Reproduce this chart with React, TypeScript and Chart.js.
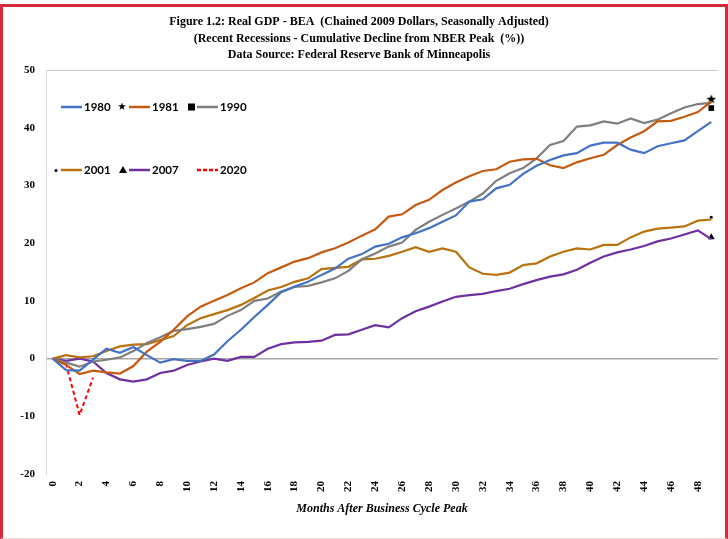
import React, { useEffect, useRef } from 'react';
import { Chart, registerables } from 'chart.js';

Chart.register(...registerables);

// ---- Data ----
const months: string[] = [
  '0', '1', '2', '3', '4', '5', '6', '7', '8', '9',
  '10', '11', '12', '13', '14', '15', '16', '17', '18', '19',
  '20', '21', '22', '23', '24', '25', '26', '27', '28', '29',
  '30', '31', '32', '33', '34', '35', '36', '37', '38', '39',
  '40', '41', '42', '43', '44', '45', '46', '47', '48', '49',
];

const titleLines: string[] = [
  'Figure 1.2: Real GDP - BEA  (Chained 2009 Dollars, Seasonally Adjusted)',
  '(Recent Recessions - Cumulative Decline from NBER Peak  (%))',
  'Data Source: Federal Reserve Bank of Minneapolis',
];
const xAxisTitle = 'Months After Business Cycle Peak';

const r1980: number[] = [
  0, -2.0, -2.1, -0.2, 1.7, 1.0, 2.0, 0.6, -0.7, -0.1,
  -0.4, -0.4, 0.7, 3.0, 5.0, 7.2, 9.3, 11.5, 12.5, 13.3,
  14.5, 15.6, 17.3, 18.1, 19.4, 19.9, 21.0, 21.7, 22.6, 23.7,
  24.8, 27.2, 27.6, 29.5, 30.1, 32.0, 33.4, 34.4, 35.2, 35.6,
  36.9, 37.4, 37.4, 36.2, 35.6, 36.8, 37.3, 37.8, 39.4, 41.0,
];
const r1981: number[] = [
  0, -1.1, -2.7, -2.1, -2.4, -2.6, -1.3, 1.2, 2.9, 5.0,
  7.3, 9.0, 10.0, 11.0, 12.2, 13.2, 14.8, 15.8, 16.8, 17.4,
  18.4, 19.1, 20.1, 21.3, 22.4, 24.6, 25.0, 26.6, 27.5, 29.2,
  30.5, 31.6, 32.5, 32.8, 34.1, 34.5, 34.6, 33.5, 33.0, 34.0,
  34.7, 35.3, 37.0, 38.3, 39.4, 41.1, 41.2, 41.9, 42.7, 44.5,
];
const r1990: number[] = [
  0, -0.7, -1.4, -0.5, -0.2, 0.2, 1.3, 2.7, 3.7, 4.8,
  5.1, 5.5, 6.0, 7.4, 8.4, 10.0, 10.4, 11.6, 12.4, 12.6,
  13.2, 13.9, 15.2, 17.2, 18.2, 19.4, 20.1, 22.3, 23.7, 24.9,
  26.0, 27.2, 28.6, 30.8, 32.1, 33.0, 34.7, 37.0, 37.7, 40.2,
  40.4, 41.1, 40.7, 41.6, 40.8, 41.4, 42.5, 43.5, 44.1, 44.3,
];
const r2001: number[] = [
  0, 0.6, 0.2, 0.4, 1.3, 2.1, 2.4, 2.5, 3.2, 3.9,
  5.8, 7.0, 7.7, 8.4, 9.3, 10.5, 11.8, 12.4, 13.3, 13.9,
  15.5, 15.7, 15.9, 17.2, 17.3, 17.8, 18.5, 19.3, 18.5, 19.1,
  18.5, 15.8, 14.7, 14.5, 14.9, 16.2, 16.5, 17.7, 18.5, 19.1,
  18.9, 19.7, 19.7, 21.0, 22.0, 22.5, 22.7, 22.9, 23.9, 24.1,
];
const r2007: number[] = [
  0, -0.4, 0.0, -0.5, -2.5, -3.6, -4.0, -3.6, -2.5, -2.1,
  -1.1, -0.5, 0.0, -0.4, 0.3, 0.3, 1.7, 2.5, 2.8, 2.9,
  3.1, 4.1, 4.2, 5.0, 5.8, 5.4, 7.0, 8.2, 9.0, 9.9,
  10.7, 11.0, 11.2, 11.7, 12.1, 12.9, 13.6, 14.2, 14.6, 15.4,
  16.6, 17.7, 18.4, 18.9, 19.5, 20.3, 20.8, 21.5, 22.2, 20.7,
];
const r2020: (number | null)[] = [0, -1.0, -9.8, -3.3];

// end-of-line marker series (value at the last month)
const markerStarValue = 45.0;
const markerSquareValue = 43.4;
const markerDotValue = 24.5;
const markerTriangleValue = 21.0;

const yMin = -20;
const yMax = 50;
const yStep = 10;

// ---- Styles ----
const C1980 = '#4472C4';
const C1981 = '#C55A11';
const C1990 = '#7F7F7F';
const C2001 = '#B8720E';
const C2007 = '#7030A0';
const C2020 = '#FF0000';

function makeStar(size: number): HTMLCanvasElement {
  const c = document.createElement('canvas');
  c.width = size;
  c.height = size;
  const g = c.getContext('2d')!;
  const cx = size / 2, cy = size / 2 + 0.5;
  const R = size / 2, r = R * 0.42;
  g.beginPath();
  for (let i = 0; i < 10; i++) {
    const ang = -Math.PI / 2 + (i * Math.PI) / 5;
    const rad = i % 2 === 0 ? R : r;
    const x = cx + rad * Math.cos(ang);
    const y = cy + rad * Math.sin(ang);
    if (i === 0) g.moveTo(x, y); else g.lineTo(x, y);
  }
  g.closePath();
  g.fillStyle = '#000';
  g.fill();
  return c;
}

const lastOnly = (v: number) => months.map((_, i) => (i === months.length - 1 ? v : null));

type LegendItem = { label: string; color: string; marker?: string; dash?: boolean };
const legendRow1: LegendItem[] = [
  { label: '1980', color: C1980 },
  { label: '1981', color: C1981, marker: 'star' },
  { label: '1990', color: C1990, marker: 'rect' },
];
const legendRow2: LegendItem[] = [
  { label: '2001', color: C2001, marker: 'dot' },
  { label: '2007', color: C2007, marker: 'triangle' },
  { label: '2020', color: C2020, dash: true },
];

export default function App() {
  const canvasRef = useRef<HTMLCanvasElement | null>(null);

  useEffect(() => {
    const canvas = canvasRef.current;
    if (!canvas) return;
    const star = makeStar(10);
    const legendStar = makeStar(8);

    const legendPlugin = {
      id: 'customLegend',
      afterDraw(chart: any) {
        const { ctx, chartArea } = chart;
        const rows = [legendRow1, legendRow2];
        const rowY = [chartArea.top + 37, chartArea.top + 100];
        const colX = [chartArea.left + 15, chartArea.left + 83, chartArea.left + 151];
        ctx.save();
        rows.forEach((row, ri) => {
          row.forEach((it, ci) => {
            const x0 = colX[ci];
            const y = rowY[ri];
            ctx.fillStyle = '#000';
            if (it.marker === 'star') {
              ctx.drawImage(legendStar, x0 - 11, y - 5);
            } else if (it.marker === 'rect') {
              ctx.fillRect(x0 - 9, y - 3.5, 7, 7);
            } else if (it.marker === 'dot') {
              ctx.beginPath();
              ctx.arc(x0 - 5, y + 0.5, 1.5, 0, Math.PI * 2);
              ctx.fill();
            } else if (it.marker === 'triangle') {
              ctx.beginPath();
              ctx.moveTo(x0 - 6, y - 4);
              ctx.lineTo(x0 - 2, y + 3);
              ctx.lineTo(x0 - 10, y + 3);
              ctx.closePath();
              ctx.fill();
            }
            ctx.strokeStyle = it.color;
            ctx.lineWidth = 2.5;
            ctx.setLineDash(it.dash ? [4, 2] : []);
            ctx.beginPath();
            ctx.moveTo(x0, y);
            ctx.lineTo(x0 + 21, y);
            ctx.stroke();
            ctx.setLineDash([]);
            ctx.fillStyle = '#000';
            ctx.font = 'bold 11.5px Lato';
            ctx.textAlign = 'left';
            ctx.textBaseline = 'middle';
            ctx.fillText(it.label, x0 + 23, y + 0.5);
          });
        });
        ctx.restore();
      },
    };

    const lineDs = (label: string, data: (number | null)[], color: string, extra: any = {}) => ({
      label,
      data,
      borderColor: color,
      backgroundColor: color,
      borderWidth: 2.2,
      pointRadius: 0,
      tension: 0,
      fill: false,
      ...extra,
    });
    const markerDs = (label: string, value: number, style: any, radius: number) => ({
      label,
      data: lastOnly(value),
      showLine: false,
      pointStyle: style,
      pointRadius: radius,
      pointBorderWidth: 0,
      pointBackgroundColor: '#000',
      pointBorderColor: '#000',
      borderColor: '#000',
      backgroundColor: '#000',
    });

    const tickFont = { family: 'Liberation Serif', size: 11, weight: 'bold' as const };

    const chart = new Chart(canvas, {
      type: 'line',
      data: {
        labels: months,
        datasets: [
          lineDs('1980', r1980, C1980),
          lineDs('1981', r1981, C1981),
          lineDs('1990', r1990, C1990),
          lineDs('2001', r2001, C2001),
          lineDs('2007', r2007, C2007),
          lineDs('2020', r2020, C2020, { borderDash: [4, 3], borderWidth: 2 }),
          markerDs('1981 marker', markerStarValue, star, 5),
          markerDs('1990 marker', markerSquareValue, 'rect', 4),
          markerDs('2001 marker', markerDotValue, 'circle', 1.5),
          markerDs('2007 marker', markerTriangleValue, 'triangle', 4),
        ],
      },
      options: {
        animation: false,
        responsive: false,
        devicePixelRatio: 1,
        layout: { padding: { left: 0, right: 10, top: 0, bottom: 0 } },
        plugins: {
          legend: { display: false },
          tooltip: { enabled: false },
          title: {
            display: true,
            text: titleLines,
            color: '#000',
            font: { family: 'Liberation Serif', size: 12, weight: 'bold', lineHeight: 1.375 },
            padding: { top: 13.75, bottom: 6.75 },
          },
        },
        scales: {
          x: {
            type: 'category',
            offset: true,
            grid: { display: false, drawTicks: false },
            border: { display: false },
            ticks: {
              autoSkip: false,
              maxRotation: 90,
              minRotation: 90,
              padding: 7,
              color: '#000',
              font: tickFont,
              callback: (_v: any, i: number) => (i % 2 === 0 ? months[i] : ''),
            },
            title: {
              display: true,
              text: xAxisTitle,
              color: '#000',
              font: { family: 'Liberation Serif', size: 12, weight: 'bold', style: 'italic' },
              padding: { top: 4, bottom: 23 },
            },
            afterFit: (s: any) => {
              s.height = 65;
              s.paddingLeft = 0;
              s.paddingRight = 0;
            },
          },
          y: {
            min: yMin,
            max: yMax,
            ticks: { stepSize: yStep, padding: 11, color: '#000', font: tickFont },
            grid: {
              drawTicks: false,
              color: (ctx: any) => {
                const v = ctx.tick ? ctx.tick.value : null;
                if (v === 0) return '#A6A6A6';
                if (v === yMax) return '#C8C8C8';
                return 'rgba(0,0,0,0)';
              },
              lineWidth: (ctx: any) => (ctx.tick && ctx.tick.value === 0 ? 1.5 : 1),
            },
            border: { display: true, color: '#D9D9D9', width: 1 },
            afterFit: (s: any) => { s.width = 46; },
          },
        },
      },
      plugins: [legendPlugin],
    } as any);

    return () => chart.destroy();
  }, []);

  return (
    <div style={{ position: 'absolute', left: 0, top: 0, width: 728, height: 539, background: '#fff', overflow: 'hidden' }}>
      <canvas ref={canvasRef} width={728} height={539} style={{ position: 'absolute', left: 0, top: 0 }} />
      <div
        style={{
          position: 'absolute',
          left: 0,
          top: 4,
          width: 728,
          height: 535,
          boxSizing: 'border-box',
          borderTop: '3px solid #D42A3C',
          borderLeft: '3px solid #D42A3C',
          borderRight: '3px solid #D42A3C',
          borderBottom: '1px solid #F6D3D8',
          pointerEvents: 'none',
        }}
      />
    </div>
  );
}
